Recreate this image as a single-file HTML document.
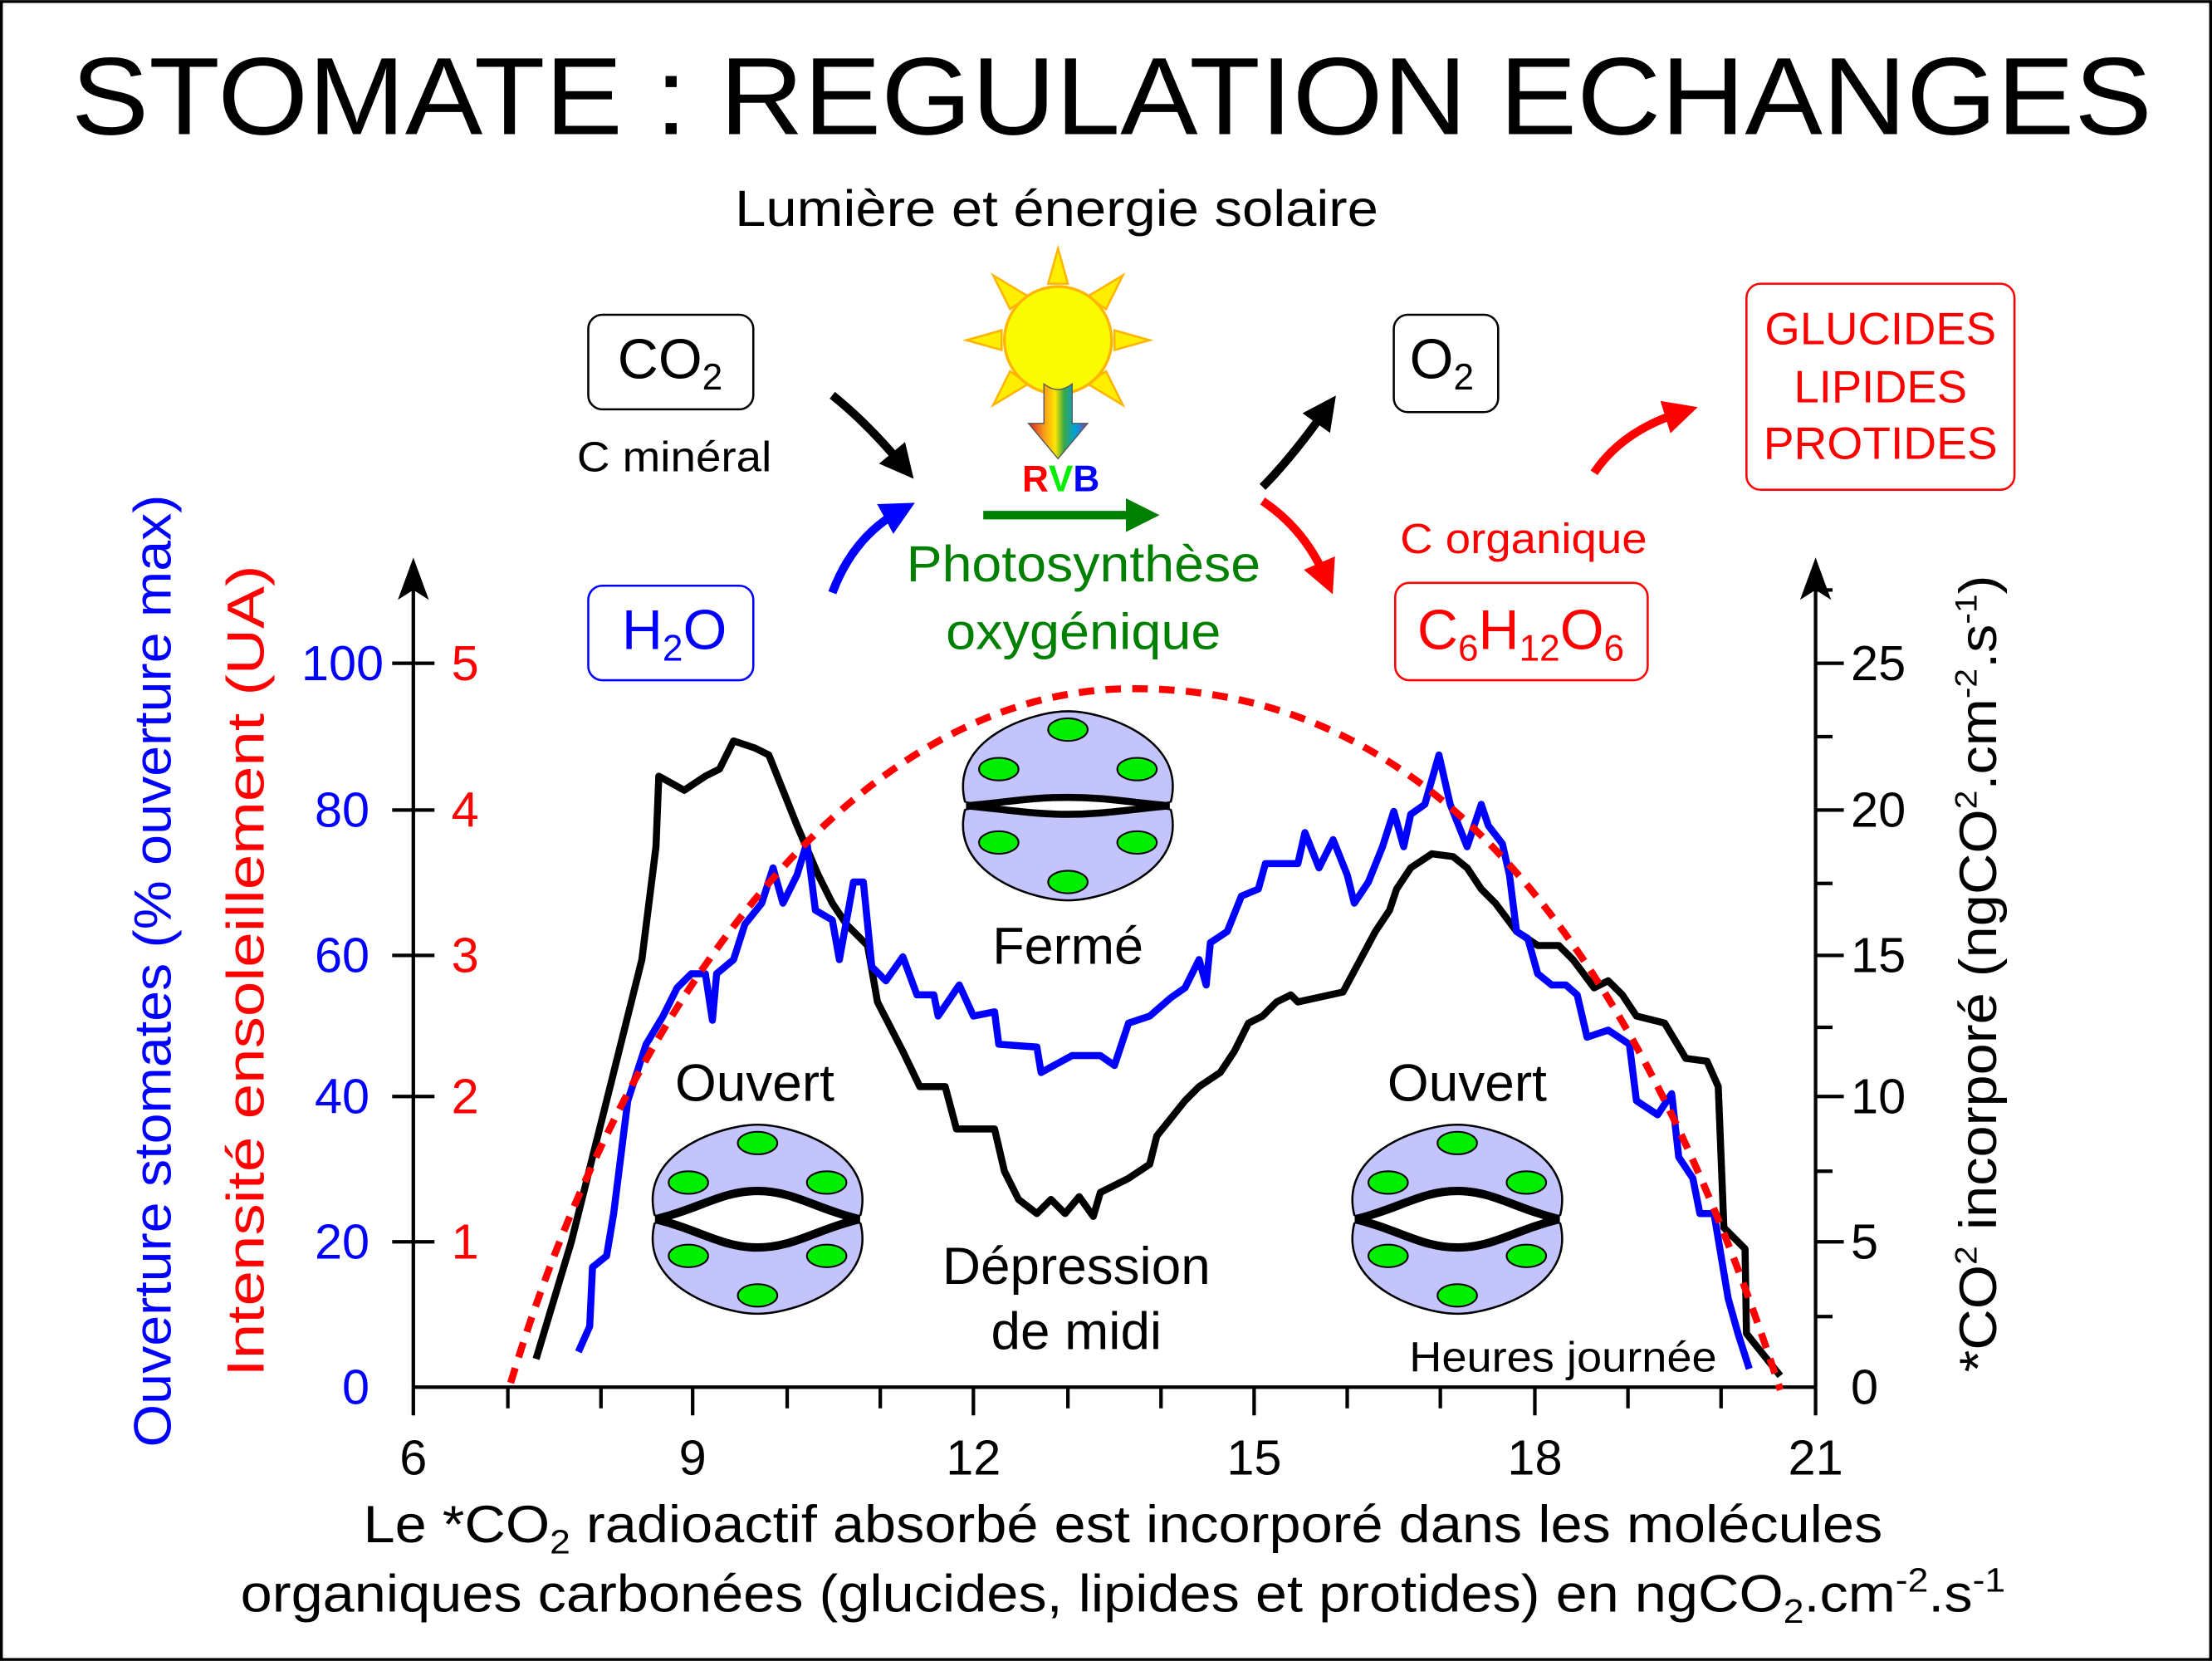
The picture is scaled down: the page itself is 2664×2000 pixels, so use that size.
<!DOCTYPE html>
<html><head><meta charset="utf-8"><style>html,body{margin:0;padding:0;background:#fff}svg{display:block}</style></head>
<body>
<svg width="2664" height="2000" viewBox="0 0 1568 1177" xmlns="http://www.w3.org/2000/svg" font-family="Liberation Sans, DejaVu Sans, sans-serif">
<defs>
<linearGradient id="rb" x1="0" x2="1" y1="0" y2="0">
<stop offset="0" stop-color="#d2202a"/><stop offset="0.25" stop-color="#f7941d"/><stop offset="0.45" stop-color="#ffe600"/><stop offset="0.6" stop-color="#3aa845"/><stop offset="0.8" stop-color="#00a0e0"/><stop offset="1" stop-color="#8a3d9a"/></linearGradient>
<marker id="ak" markerWidth="4" markerHeight="4" refX="2" refY="2" orient="auto" markerUnits="strokeWidth"><path d="M0,0 L4,2 L0,4 Z" fill="#000"/></marker>
<marker id="ab" markerWidth="4" markerHeight="4" refX="2" refY="2" orient="auto" markerUnits="strokeWidth"><path d="M0,0 L4,2 L0,4 Z" fill="#0000ff"/></marker>
<marker id="ag" markerWidth="4" markerHeight="4" refX="2" refY="2" orient="auto" markerUnits="strokeWidth"><path d="M0,0 L4,2 L0,4 Z" fill="#008000"/></marker>
<marker id="ar" markerWidth="4" markerHeight="4" refX="2" refY="2" orient="auto" markerUnits="strokeWidth"><path d="M0,0 L4,2 L0,4 Z" fill="#ff0000"/></marker>
<g id="cells">
<path d="M-73,-3 C-84,-48 -25,-67 0,-67 C25,-67 84,-48 73,-3 C70,1 -70,1 -73,-3Z" fill="#c4c4fc" stroke="#000" stroke-width="1.5"/>
<path d="M-73,3 C-84,48 -25,67 0,67 C25,67 84,48 73,3 C70,-1 -70,-1 -73,3Z" fill="#c4c4fc" stroke="#000" stroke-width="1.5"/>
<g fill="#00ee00" stroke="#000" stroke-width="1.2">
<ellipse cx="0" cy="-54" rx="14" ry="8"/><ellipse cx="-49" cy="-26" rx="14" ry="8"/><ellipse cx="49" cy="-26" rx="14" ry="8"/>
<ellipse cx="-49" cy="26" rx="14" ry="8"/><ellipse cx="49" cy="26" rx="14" ry="8"/><ellipse cx="0" cy="54" rx="14" ry="8"/></g>
</g>
<g id="open"><use href="#cells"/>
<path d="M-72,0 C-40,-8 -25,-20 0,-20 C25,-20 40,-8 72,0 C40,8 25,20 0,20 C-25,20 -40,8 -72,0Z" fill="#fff" stroke="#000" stroke-width="6" stroke-linejoin="miter"/></g>
<g id="closed"><use href="#cells"/>
<path d="M-72,0 C-40,-3 -25,-6 0,-6 C25,-6 40,-3 72,0 C40,3 25,6 0,6 C-25,6 -40,3 -72,0Z" fill="#fff" stroke="#000" stroke-width="5" stroke-linejoin="miter"/></g>
</defs>
<rect x="1" y="1" width="1566" height="1175" fill="#fff" stroke="#000" stroke-width="2"/>
<text x="788" y="95" font-size="78" text-anchor="middle" textLength="1475" lengthAdjust="spacingAndGlyphs">STOMATE : REGULATION ECHANGES</text>
<text x="749" y="160" font-size="36" text-anchor="middle" textLength="456" lengthAdjust="spacingAndGlyphs">Lumière et énergie solaire</text>
<!-- sun -->
<g stroke="#ffb400" stroke-width="1.5" fill="#ffee00">
<polygon points="750,176 743,201 757,201"/><polygon points="750,318 743,293 757,293"/>
<polygon points="685,241 710,234 710,248"/><polygon points="815,241 790,234 790,248"/>
<polygon points="704,195 716,219 729,210"/><polygon points="796,195 784,219 771,210"/>
<polygon points="704,287 716,263 729,272"/><polygon points="796,287 784,263 771,272"/>
<circle cx="750" cy="241" r="38" fill="#fafa00" stroke="#ffb400" stroke-width="2"/>
</g>
<path d="M740,272 Q750,280 760,272 L760,300 L771,300 L750,325 L729,300 L740,300 Z" fill="url(#rb)" stroke="#555" stroke-width="0.8"/>
<text x="752" y="348" font-size="26" font-weight="bold" text-anchor="middle"><tspan fill="#ff0000">R</tspan><tspan fill="#00ee00">V</tspan><tspan fill="#0000ff">B</tspan></text>
<!-- boxes -->
<rect x="417" y="223" width="117" height="67" rx="10" fill="#fff" stroke="#000" stroke-width="1.5"/>
<text x="475" y="268" font-size="40" text-anchor="middle">CO<tspan font-size="26" dy="8">2</tspan></text>
<text x="478" y="334" font-size="30" text-anchor="middle" textLength="138" lengthAdjust="spacingAndGlyphs">C minéral</text>
<rect x="417" y="415" width="117" height="67" rx="10" fill="#fff" stroke="#0000ff" stroke-width="1.5"/>
<text x="478" y="460" font-size="40" text-anchor="middle" fill="#0000ff">H<tspan font-size="26" dy="8">2</tspan><tspan dy="-8">O</tspan></text>
<rect x="988" y="223" width="74" height="69" rx="10" fill="#fff" stroke="#000" stroke-width="1.5"/>
<text x="1022" y="268" font-size="40" text-anchor="middle">O<tspan font-size="26" dy="8">2</tspan></text>
<rect x="1238" y="201" width="190" height="146" rx="10" fill="#fff" stroke="#ff0000" stroke-width="1.5"/>
<g fill="#ff0000" font-size="32" text-anchor="middle"><text x="1333" y="244" textLength="164" lengthAdjust="spacingAndGlyphs">GLUCIDES</text><text x="1333" y="285">LIPIDES</text><text x="1333" y="325" textLength="166" lengthAdjust="spacingAndGlyphs">PROTIDES</text></g>
<text x="1080" y="392" font-size="30" text-anchor="middle" fill="#ff0000" textLength="175" lengthAdjust="spacingAndGlyphs">C organique</text>
<rect x="989" y="413" width="179" height="69" rx="10" fill="#fff" stroke="#ff0000" stroke-width="1.5"/>
<text x="1078" y="460" font-size="40" text-anchor="middle" fill="#ff0000">C<tspan font-size="26" dy="8">6</tspan><tspan dy="-8">H</tspan><tspan font-size="26" dy="8">12</tspan><tspan dy="-8">O</tspan><tspan font-size="26" dy="8">6</tspan></text>
<text x="768" y="412" font-size="36" text-anchor="middle" fill="#008000" textLength="251" lengthAdjust="spacingAndGlyphs">Photosynthèse</text>
<text x="768" y="460" font-size="36" text-anchor="middle" fill="#008000" textLength="195" lengthAdjust="spacingAndGlyphs">oxygénique</text>
<!-- arrows -->
<g fill="none" stroke-width="6">
<path d="M590,280 Q615,300 640,330" stroke="#000" marker-end="url(#ak)"/>
<path d="M590,420 Q605,380 638,362" stroke="#0000ff" marker-end="url(#ab)"/>
<path d="M697,365 L810,365" stroke="#008000" marker-end="url(#ag)"/>
<path d="M895,345 Q915,325 940,290" stroke="#000" marker-end="url(#ak)"/>
<path d="M895,355 Q925,375 940,410" stroke="#ff0000" marker-end="url(#ar)"/>
<path d="M1130,335 Q1150,305 1192,292" stroke="#ff0000" marker-end="url(#ar)"/>
</g>
<!-- axes -->
<g stroke="#000" stroke-width="2.5" fill="none">
<path d="M293,983 H1287"/><path d="M293,983 V415"/><path d="M1287,983 V415"/>
</g>
<path d="M293,395 L282,425 L293,418 L304,425Z" fill="#000"/>
<path d="M1287,395 L1276,425 L1287,418 L1298,425Z" fill="#000"/>
<g stroke="#000" stroke-width="2.5">
<path d="M360,983v15M426,983v15M558,983v15M624,983v15M757,983v15M823,983v15M955,983v15M1021,983v15M1154,983v15M1220,983v15"/>
<path d="M293,983v20M491,983v20M690,983v20M889,983v20M1088,983v20M1287,983v20"/>
<path d="M278,470h30M278,574h30M278,677h30M278,777h30M278,880h30"/>
<path d="M1287,470h20M1287,574h20M1287,677h20M1287,777h20M1287,880h20M1287,522h12M1287,626h12M1287,728h12M1287,830h12M1287,933h12M1287,418h12"/>
</g>
<g font-size="35" fill="#0000ff" text-anchor="end"><text x="272" y="482">100</text><text x="262" y="586">80</text><text x="262" y="689">60</text><text x="262" y="789">40</text><text x="262" y="892">20</text><text x="262" y="995">0</text></g>
<g font-size="35" fill="#ff0000"><text x="320" y="482">5</text><text x="320" y="586">4</text><text x="320" y="689">3</text><text x="320" y="789">2</text><text x="320" y="892">1</text></g>
<g font-size="35"><text x="1312" y="482">25</text><text x="1312" y="586">20</text><text x="1312" y="689">15</text><text x="1312" y="789">10</text><text x="1312" y="892">5</text><text x="1312" y="995">0</text></g>
<g font-size="35" text-anchor="middle"><text x="293" y="1045">6</text><text x="491" y="1045">9</text><text x="690" y="1045">12</text><text x="889" y="1045">15</text><text x="1088" y="1045">18</text><text x="1287" y="1045">21</text></g>
<text transform="translate(121,688) rotate(-90)" font-size="37" fill="#0000ff" text-anchor="middle" textLength="675" lengthAdjust="spacingAndGlyphs">Ouverture stomates (% ouverture max)</text>
<text transform="translate(187,688) rotate(-90)" font-size="37" fill="#ff0000" text-anchor="middle" textLength="575" lengthAdjust="spacingAndGlyphs">Intensité ensoleillement (UA)</text>
<text transform="translate(1415,690) rotate(-90)" font-size="37" text-anchor="middle" textLength="565" lengthAdjust="spacingAndGlyphs">*CO<tspan font-size="22" dy="-14">2</tspan><tspan dy="14"> incorporé (ngCO</tspan><tspan font-size="22" dy="-14">2</tspan><tspan dy="14">.cm</tspan><tspan font-size="22" dy="-14">-2</tspan><tspan dy="14">.s</tspan><tspan font-size="22" dy="-14">-1</tspan><tspan dy="14">)</tspan></text>
<text x="796" y="1093" font-size="37" text-anchor="middle" textLength="1077" lengthAdjust="spacingAndGlyphs">Le *CO<tspan font-size="24" dy="8">2</tspan><tspan dy="-8"> radioactif absorbé est incorporé dans les molécules</tspan></text>
<text x="796" y="1142" font-size="37" text-anchor="middle" textLength="1251" lengthAdjust="spacingAndGlyphs">organiques carbonées (glucides, lipides et protides) en ngCO<tspan font-size="24" dy="8">2</tspan><tspan dy="-8">.cm</tspan><tspan font-size="24" dy="-14">-2</tspan><tspan dy="14">.s</tspan><tspan font-size="24" dy="-14">-1</tspan></text>
<!-- stomata -->
<use href="#closed" transform="translate(757,571)"/>
<use href="#open" transform="translate(537,864)"/>
<use href="#open" transform="translate(1033,864)"/>
<!-- curves -->
<polyline fill="none" stroke="#000" stroke-width="5" stroke-linejoin="round" points="380,963 405,880 430,780 455,680 465,600 467,550 485,560 500,550 510,545 520,525 535,530 545,535 555,560 565,585 580,620 590,640 600,655 615,670 622,710 640,745 652,770 670,770 678,800 705,800 712,830 722,850 735,860 745,850 755,860 765,848 775,862 780,845 800,835 815,825 820,805 840,780 850,770 865,760 875,745 885,725 895,720 905,710 915,705 920,710 952,703 975,660 985,645 990,630 1000,615 1015,605 1030,607 1040,615 1050,630 1060,640 1075,660 1090,670 1105,670 1115,680 1130,700 1140,695 1150,705 1160,720 1180,725 1195,750 1210,752 1218,770 1222,870 1237,885 1238,945 1262,975"/>
<polyline fill="none" stroke="#0000ff" stroke-width="5" stroke-linejoin="round" points="410,958 418,940 420,898 430,890 435,860 445,780 458,740 470,720 480,700 490,690 500,690 505,723 508,690 520,680 528,655 540,640 548,615 555,640 565,620 572,597 578,645 590,652 595,680 605,625 612,625 618,685 628,695 640,678 650,705 662,705 665,720 680,698 690,720 705,717 708,740 735,742 738,760 760,748 780,748 790,755 800,725 815,720 830,707 840,700 850,680 855,698 858,668 870,660 880,635 892,630 897,612 920,612 925,590 935,615 945,595 955,620 960,640 970,625 980,600 988,575 995,600 1000,577 1010,570 1020,535 1028,570 1040,600 1050,570 1055,585 1065,598 1070,620 1075,660 1083,665 1090,690 1100,698 1110,698 1118,705 1125,735 1140,730 1155,740 1160,780 1175,790 1185,775 1190,820 1200,835 1205,860 1215,860 1225,920 1232,945 1240,970"/>
<path d="M362,980 C440,720 600,490 800,488 C1000,486 1150,640 1262,985" fill="none" stroke="#ff0000" stroke-width="5" stroke-dasharray="11,8"/>
<g font-size="37" text-anchor="middle"><text x="535" y="780" textLength="113" lengthAdjust="spacingAndGlyphs">Ouvert</text><text x="1040" y="780" textLength="113" lengthAdjust="spacingAndGlyphs">Ouvert</text><text x="757" y="683" textLength="107" lengthAdjust="spacingAndGlyphs">Fermé</text><text x="763" y="910" textLength="190" lengthAdjust="spacingAndGlyphs">Dépression</text><text x="763" y="956" textLength="121" lengthAdjust="spacingAndGlyphs">de midi</text></g>
<text x="1108" y="972" font-size="30" text-anchor="middle" textLength="218" lengthAdjust="spacingAndGlyphs">Heures journée</text>
</svg>
</body></html>
